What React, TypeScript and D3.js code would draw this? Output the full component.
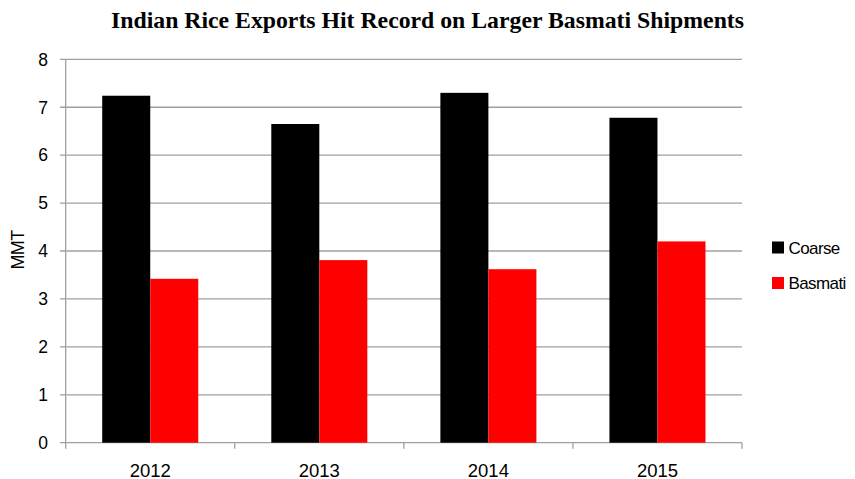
import React from "react";
import * as d3 from "d3";

const years = ["2012", "2013", "2014", "2015"];
const seriesNames = ["Coarse", "Basmati"];
const coarse = [7.24, 6.65, 7.3, 6.78];
const basmati = [3.42, 3.81, 3.62, 4.2];
const colors = ["#000000", "#ff0000"];
const yTicks = [0, 1, 2, 3, 4, 5, 6, 7, 8];

const W = 855, H = 479;
const left = 65.7, right = 742, top = 59.3, bottom = 442.7;

export default function App() {
  const x = d3.scaleBand<string>().domain(years).range([left, right]).paddingInner(0).paddingOuter(0);
  const y = d3.scaleLinear().domain([0, 8]).range([bottom, top]);
  const groupW = x.bandwidth() * 0.568;
  const inner = d3.scaleBand<string>().domain(seriesNames).range([0, groupW]);
  const data = [coarse, basmati];
  const grid = "#a0a0a0";
  return (
    <svg width={W} height={H} style={{ position: "absolute", left: 0, top: 0 }}>
      <rect width={W} height={H} fill="#fff" />
      <text x={427.5} y={27.7} textAnchor="middle" fontFamily="Liberation Serif" fontWeight="bold" fontSize={22.5} textLength={633} lengthAdjust="spacingAndGlyphs">
        Indian Rice Exports Hit Record on Larger Basmati Shipments
      </text>
      {yTicks.map((t) => (
        <g key={t}>
          <line x1={60} x2={right} y1={y(t)} y2={y(t)} stroke={grid} strokeWidth={1.3} />
          <text x={48} y={y(t) + 6.3} textAnchor="end" fontFamily="Liberation Sans" fontSize={17.5}>{t}</text>
        </g>
      ))}
      <line x1={left} x2={left} y1={top} y2={bottom} stroke={grid} strokeWidth={1.3} />
      {[...years.map((yr) => x(yr)!), right].map((v, i) => (
        <line key={i} x1={v} x2={v} y1={bottom} y2={bottom + 6} stroke={grid} strokeWidth={1.3} />
      ))}
      {years.map((yr, i) => {
        const gx = x(yr)! + (x.bandwidth() - groupW) / 2;
        return (
          <g key={yr}>
            {seriesNames.map((s, j) => (
              <rect key={s} x={gx + inner(s)!} y={y(data[j][i])} width={inner.bandwidth()} height={bottom - y(data[j][i])} fill={colors[j]} />
            ))}
            <text x={x(yr)! + x.bandwidth() / 2} y={476.5} textAnchor="middle" fontFamily="Liberation Sans" fontSize={18.5}>{yr}</text>
          </g>
        );
      })}
      <text transform={`translate(24,${250}) rotate(-90)`} textAnchor="middle" fontFamily="Liberation Sans" fontSize={18} letterSpacing={-0.6}>MMT</text>
      {seriesNames.map((s, j) => (
        <g key={s} transform={`translate(772,${247.5 + j * 35.5})`}>
          <rect x={0} y={-6} width={12} height={12} fill={colors[j]} />
          <text x={16.5} y={6.3} fontFamily="Liberation Sans" fontSize={17} letterSpacing={-0.6}>{s}</text>
        </g>
      ))}
    </svg>
  );
}
